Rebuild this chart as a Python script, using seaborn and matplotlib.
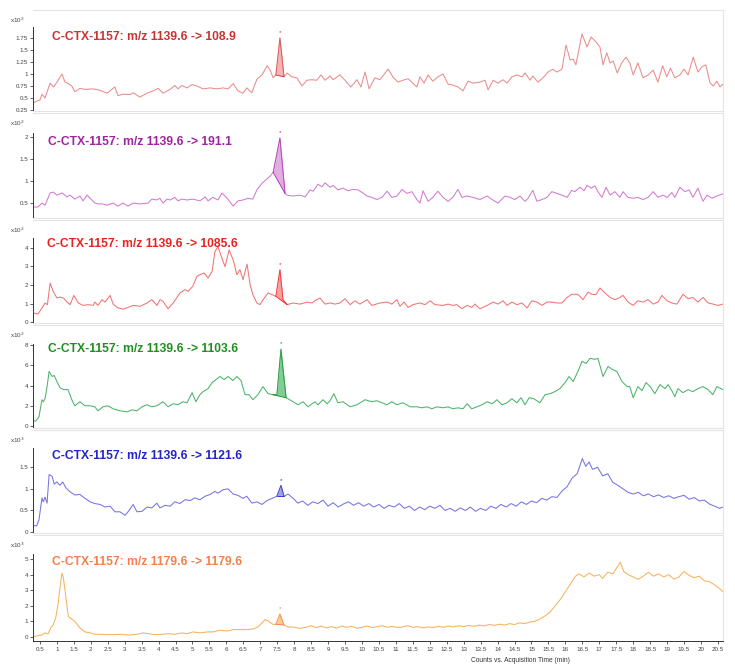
import numpy as np
import matplotlib
matplotlib.use("Agg")
import matplotlib.pyplot as plt
import seaborn as sns

# ---- data (time in min, counts in the panel's x10^n unit) ----
time_108 = [0.29, 0.5, 0.56, 0.65, 0.8, 0.9, 1.0, 1.15, 1.24, 1.33,
            1.44, 1.53, 1.68, 1.83, 2.07, 2.27, 2.48, 2.57, 2.71, 2.8,
            2.95, 3.16, 3.25, 3.45, 3.66, 3.84, 3.99, 4.13, 4.34, 4.48,
            4.57, 4.69, 4.84, 4.98, 5.13, 5.31, 5.52, 5.72, 5.9, 6.05,
            6.2, 6.34, 6.49, 6.6, 6.75, 6.9, 7.05, 7.2, 7.29, 7.38,
            7.46, 7.58, 7.7, 7.79, 7.93, 8.08, 8.23, 8.37, 8.52, 8.67,
            8.79, 8.91, 9.06, 9.15, 9.35, 9.5, 9.67, 9.85, 9.97, 10.09,
            10.21, 10.38, 10.53, 10.77, 10.91, 11.06, 11.21, 11.36, 11.5, 11.62,
            11.71, 11.83, 11.95, 12.09, 12.24, 12.39, 12.54, 12.68, 12.83, 12.98,
            13.13, 13.27, 13.48, 13.63, 13.72, 13.87, 14.01, 14.16, 14.28, 14.42,
            14.57, 14.72, 14.81, 14.96, 15.04, 15.19, 15.34, 15.49, 15.63, 15.75,
            15.9, 16.02, 16.14, 16.23, 16.31, 16.49, 16.64, 16.76, 16.87, 17.02,
            17.11, 17.22, 17.32, 17.41, 17.53, 17.66, 17.79, 17.9, 18.0, 18.14,
            18.29, 18.44, 18.59, 18.73, 18.87, 18.99, 19.1, 19.23, 19.38, 19.5,
            19.62, 19.77, 19.91, 20.03, 20.14, 20.27, 20.36, 20.47, 20.56, 20.65]
counts_108 = [0.40, 0.46, 0.58, 0.50, 0.81, 0.73, 0.83, 1.00, 0.83, 0.80,
              0.75, 0.63, 0.70, 0.68, 0.69, 0.66, 0.60, 0.65, 0.73, 0.55,
              0.58, 0.57, 0.61, 0.52, 0.60, 0.65, 0.70, 0.60, 0.68, 0.76,
              0.69, 0.76, 0.71, 0.78, 0.75, 0.69, 0.71, 0.69, 0.71, 0.69,
              0.80, 0.65, 0.60, 0.71, 0.61, 0.89, 0.98, 1.17, 1.08, 0.92,
              0.98, 1.75, 0.94, 1.02, 0.94, 0.92, 0.75, 0.87, 0.88, 0.87,
              0.98, 0.87, 0.96, 0.88, 0.98, 0.87, 0.73, 0.88, 0.73, 1.04,
              0.69, 0.92, 0.88, 1.10, 0.94, 0.83, 0.87, 0.90, 0.81, 0.73,
              0.94, 0.81, 0.98, 0.85, 0.94, 1.00, 0.79, 0.77, 0.73, 0.65,
              0.85, 0.81, 0.83, 0.87, 0.67, 0.87, 0.81, 0.88, 0.81, 0.94,
              0.98, 0.94, 1.02, 0.87, 0.96, 0.83, 0.92, 1.04, 1.10, 1.04,
              1.10, 1.60, 1.29, 1.31, 1.19, 1.83, 1.56, 1.77, 1.69, 1.56,
              1.19, 1.44, 1.23, 1.27, 1.02, 1.23, 1.35, 1.23, 0.98, 1.23,
              0.92, 0.98, 1.08, 0.83, 1.17, 0.94, 1.12, 0.92, 0.98, 1.10,
              0.98, 1.35, 1.04, 1.15, 1.19, 0.81, 0.75, 0.85, 0.73, 0.79]

time_191 = [0.29, 0.44, 0.56, 0.65, 0.8, 0.89, 1.0, 1.15, 1.3, 1.39,
            1.53, 1.68, 1.77, 1.89, 1.98, 2.12, 2.21, 2.36, 2.47, 2.66,
            2.8, 2.95, 3.1, 3.25, 3.45, 3.69, 3.8, 3.95, 4.04, 4.13,
            4.25, 4.34, 4.48, 4.57, 4.69, 4.84, 5.01, 5.22, 5.37, 5.46,
            5.6, 5.75, 5.87, 6.02, 6.2, 6.34, 6.49, 6.64, 6.78, 6.9,
            7.05, 7.2, 7.3, 7.38, 7.58, 7.73, 7.79, 7.96, 8.17, 8.32,
            8.47, 8.56, 8.7, 8.82, 8.91, 9.06, 9.15, 9.29, 9.44, 9.59,
            9.73, 9.88, 10.03, 10.15, 10.29, 10.44, 10.59, 10.74, 10.88, 11.03,
            11.18, 11.33, 11.47, 11.62, 11.71, 11.8, 11.95, 12.09, 12.24, 12.39,
            12.54, 12.68, 12.83, 12.95, 13.1, 13.27, 13.48, 13.69, 13.84, 14.01,
            14.22, 14.37, 14.51, 14.66, 14.81, 14.9, 15.04, 15.16, 15.31, 15.46,
            15.6, 15.75, 15.9, 16.05, 16.19, 16.28, 16.43, 16.55, 16.64, 16.76,
            16.87, 16.96, 17.08, 17.2, 17.32, 17.46, 17.61, 17.7, 17.85, 18.0,
            18.14, 18.29, 18.44, 18.59, 18.73, 18.88, 19.0, 19.14, 19.23, 19.38,
            19.53, 19.65, 19.76, 19.91, 20.06, 20.18, 20.32, 20.47, 20.65]
counts_191 = [0.41, 0.41, 0.50, 0.45, 0.73, 0.75, 0.68, 0.73, 0.64, 0.68,
              0.59, 0.66, 0.55, 0.68, 0.61, 0.50, 0.48, 0.48, 0.45, 0.50,
              0.43, 0.50, 0.43, 0.50, 0.48, 0.50, 0.59, 0.57, 0.61, 0.50,
              0.59, 0.57, 0.63, 0.55, 0.59, 0.57, 0.59, 0.55, 0.64, 0.55,
              0.63, 0.57, 0.73, 0.61, 0.43, 0.55, 0.57, 0.61, 0.59, 0.80,
              0.95, 1.05, 1.12, 1.20, 1.98, 0.72, 0.68, 0.66, 0.68, 0.64,
              0.80, 0.77, 0.93, 0.87, 0.96, 0.86, 0.90, 0.80, 0.84, 0.78,
              0.81, 0.80, 0.73, 0.66, 0.63, 0.58, 0.63, 0.77, 0.63, 0.66,
              0.81, 0.72, 0.76, 0.58, 0.50, 0.78, 0.54, 0.63, 0.77, 0.63,
              0.54, 0.63, 0.81, 0.63, 0.66, 0.63, 0.58, 0.66, 0.58, 0.50,
              0.66, 0.63, 0.58, 0.66, 0.54, 0.61, 0.79, 0.54, 0.58, 0.63,
              0.76, 0.72, 0.68, 0.63, 0.79, 0.76, 0.86, 0.78, 0.90, 0.84,
              0.89, 0.76, 0.63, 0.86, 0.68, 0.76, 0.63, 0.76, 0.63, 0.61,
              0.63, 0.58, 0.63, 0.76, 0.63, 0.68, 0.63, 0.74, 0.63, 0.86,
              0.76, 0.80, 0.63, 0.84, 0.54, 0.68, 0.61, 0.66, 0.71]

time_1085 = [0.29, 0.44, 0.56, 0.65, 0.72, 0.8, 0.9, 1.0, 1.09, 1.19,
             1.3, 1.39, 1.5, 1.63, 1.77, 1.93, 2.07, 2.12, 2.21, 2.33,
             2.42, 2.57, 2.66, 2.8, 2.95, 3.1, 3.25, 3.45, 3.66, 3.8,
             3.95, 4.04, 4.13, 4.28, 4.43, 4.63, 4.78, 4.87, 5.01, 5.13,
             5.22, 5.34, 5.46, 5.58, 5.66, 5.75, 5.87, 5.96, 6.08, 6.2,
             6.31, 6.4, 6.49, 6.61, 6.7, 6.78, 6.9, 6.99, 7.08, 7.23,
             7.35, 7.46, 7.58, 7.67, 7.79, 7.97, 8.17, 8.38, 8.53, 8.61,
             8.76, 8.91, 9.06, 9.2, 9.35, 9.5, 9.65, 9.79, 9.94, 10.15,
             10.29, 10.53, 10.74, 10.88, 11.03, 11.12, 11.24, 11.36, 11.5, 11.71,
             11.86, 12.01, 12.15, 12.39, 12.54, 12.68, 12.8, 12.95, 13.1, 13.24,
             13.33, 13.48, 13.69, 13.87, 14.01, 14.16, 14.28, 14.42, 14.57, 14.72,
             14.87, 15.01, 15.16, 15.31, 15.46, 15.6, 15.75, 15.9, 16.05, 16.19,
             16.37, 16.52, 16.67, 16.78, 16.9, 17.02, 17.17, 17.32, 17.46, 17.58,
             17.7, 17.85, 18.0, 18.14, 18.29, 18.44, 18.59, 18.73, 18.85, 19.0,
             19.14, 19.29, 19.47, 19.62, 19.76, 19.91, 20.06, 20.21, 20.36, 20.5,
             20.65]
counts_1085 = [0.49, 0.43, 0.76, 1.03, 0.94, 2.10, 1.62, 1.30, 1.35, 1.30,
               1.08, 0.94, 1.44, 1.03, 0.90, 0.94, 0.90, 1.08, 0.90, 1.21,
               1.08, 1.44, 0.97, 0.76, 0.70, 0.79, 0.90, 0.85, 1.03, 1.21,
               0.90, 1.21, 1.12, 0.72, 1.03, 1.57, 1.75, 1.66, 1.93, 2.47,
               2.56, 2.65, 2.38, 2.74, 3.80, 4.07, 3.44, 2.99, 3.89, 3.35,
               2.56, 2.83, 2.29, 3.13, 2.02, 1.48, 1.03, 0.94, 1.21, 1.57,
               1.48, 1.39, 2.83, 1.21, 0.94, 1.03, 0.97, 1.08, 1.03, 1.15,
               1.30, 0.97, 1.03, 0.97, 1.03, 1.26, 0.94, 1.15, 0.97, 1.21,
               0.90, 1.03, 1.08, 0.97, 1.21, 0.85, 1.08, 0.79, 0.94, 1.03,
               0.94, 1.15, 0.94, 0.90, 0.97, 0.90, 0.94, 0.72, 0.90, 0.79,
               0.97, 0.72, 0.90, 1.08, 0.97, 1.15, 0.90, 1.08, 0.94, 1.03,
               0.76, 1.15, 1.08, 0.90, 1.08, 1.08, 1.03, 1.03, 1.33, 1.50,
               1.50, 1.21, 1.62, 1.50, 1.48, 1.84, 1.57, 1.33, 1.21, 1.30,
               1.44, 1.08, 0.90, 1.15, 1.08, 1.21, 0.97, 1.08, 1.44, 1.15,
               1.03, 0.97, 1.50, 1.26, 1.33, 1.08, 1.33, 1.03, 0.97, 0.90,
               0.97]

time_1103 = [0.29, 0.38, 0.47, 0.56, 0.6, 0.65, 0.71, 0.77, 0.86, 0.92,
             1.0, 1.09, 1.19, 1.33, 1.44, 1.53, 1.68, 1.83, 1.98, 2.12,
             2.21, 2.36, 2.51, 2.66, 2.86, 3.07, 3.22, 3.36, 3.51, 3.66,
             3.8, 3.95, 4.04, 4.13, 4.28, 4.43, 4.57, 4.72, 4.84, 4.99,
             5.1, 5.22, 5.31, 5.46, 5.58, 5.66, 5.81, 5.93, 6.05, 6.19,
             6.31, 6.43, 6.55, 6.67, 6.78, 6.93, 7.08, 7.23, 7.37, 7.49,
             7.61, 7.76, 7.97, 8.11, 8.26, 8.41, 8.61, 8.7, 8.85, 8.97,
             9.06, 9.17, 9.29, 9.44, 9.65, 9.85, 10.09, 10.29, 10.44, 10.59,
             10.74, 10.88, 11.03, 11.21, 11.42, 11.62, 11.77, 11.92, 12.06, 12.21,
             12.39, 12.54, 12.68, 12.83, 12.98, 13.1, 13.24, 13.39, 13.54, 13.69,
             13.84, 13.98, 14.13, 14.28, 14.42, 14.57, 14.69, 14.81, 14.93, 15.07,
             15.25, 15.4, 15.55, 15.69, 15.84, 15.99, 16.11, 16.23, 16.37, 16.49,
             16.61, 16.73, 16.87, 16.96, 17.11, 17.26, 17.38, 17.52, 17.67, 17.82,
             17.9, 18.0, 18.14, 18.26, 18.38, 18.5, 18.64, 18.79, 18.94, 19.03,
             19.14, 19.23, 19.32, 19.47, 19.62, 19.76, 19.91, 20.06, 20.21, 20.35,
             20.47, 20.65]
counts_1103 = [0.5, 0.5, 0.9, 2.6, 2.4, 2.7, 3.9, 5.4, 4.9, 5.0,
               4.4, 3.8, 3.6, 3.6, 2.6, 2.0, 2.4, 2.0, 2.0, 1.9,
               1.5, 1.9, 2.0, 1.7, 1.5, 1.4, 1.6, 1.5, 1.9, 2.1,
               1.9, 2.0, 2.2, 2.4, 1.9, 2.2, 2.1, 2.4, 2.3, 3.3,
               2.4, 3.1, 3.4, 3.7, 4.3, 4.5, 4.9, 4.6, 4.9, 4.5,
               4.9, 4.5, 3.1, 3.1, 2.6, 3.1, 3.9, 3.2, 3.1, 3.1,
               7.6, 2.8, 2.4, 2.1, 2.4, 1.9, 2.4, 2.1, 2.6, 2.2,
               2.5, 3.2, 2.3, 2.4, 1.9, 2.1, 2.6, 2.4, 2.5, 2.3,
               2.1, 2.4, 2.1, 2.3, 1.9, 1.9, 1.8, 1.9, 1.7, 1.9,
               1.8, 1.9, 1.7, 1.8, 1.7, 2.2, 1.7, 1.9, 2.1, 2.4,
               2.2, 2.6, 2.1, 2.3, 2.7, 2.3, 2.8, 2.1, 2.8, 2.7,
               2.3, 3.1, 3.2, 3.4, 3.7, 4.3, 4.9, 4.4, 5.4, 6.4,
               6.2, 6.7, 6.6, 6.7, 4.9, 5.9, 5.6, 5.4, 4.4, 3.9,
               3.9, 2.8, 3.9, 3.5, 4.3, 3.9, 3.2, 4.1, 3.7, 4.1,
               3.5, 2.9, 3.7, 3.3, 3.6, 3.4, 3.7, 3.9, 3.6, 3.1,
               3.9, 3.6]

time_1121 = [0.29, 0.4, 0.47, 0.56, 0.6, 0.65, 0.71, 0.77, 0.86, 0.92,
             1.0, 1.09, 1.17, 1.27, 1.39, 1.53, 1.68, 1.83, 1.98, 2.12,
             2.27, 2.42, 2.57, 2.71, 2.86, 3.01, 3.1, 3.25, 3.36, 3.51,
             3.66, 3.8, 3.95, 4.04, 4.19, 4.34, 4.48, 4.63, 4.78, 4.93,
             5.07, 5.22, 5.37, 5.52, 5.66, 5.75, 5.9, 6.05, 6.2, 6.34,
             6.49, 6.6, 6.75, 6.9, 7.05, 7.2, 7.35, 7.49, 7.61, 7.7,
             7.82, 7.97, 8.11, 8.25, 8.4, 8.55, 8.7, 8.85, 9.0, 9.15,
             9.3, 9.45, 9.6, 9.75, 9.9, 10.05, 10.2, 10.35, 10.5, 10.65,
             10.8, 10.95, 11.1, 11.25, 11.4, 11.55, 11.7, 11.85, 12.0, 12.15,
             12.3, 12.45, 12.6, 12.75, 12.9, 13.05, 13.2, 13.35, 13.5, 13.65,
             13.8, 13.95, 14.1, 14.25, 14.4, 14.55, 14.7, 14.85, 15.0, 15.15,
             15.3, 15.45, 15.6, 15.75, 15.9, 16.05, 16.2, 16.35, 16.5, 16.6,
             16.7, 16.8, 16.95, 17.1, 17.25, 17.4, 17.55, 17.7, 17.85, 18.0,
             18.15, 18.3, 18.45, 18.6, 18.75, 18.9, 19.05, 19.2, 19.35, 19.5,
             19.65, 19.8, 19.95, 20.1, 20.25, 20.4, 20.55, 20.65]
counts_1121 = [0.16, 0.14, 0.28, 0.79, 0.70, 0.81, 0.67, 1.33, 1.29, 1.11,
               1.16, 1.08, 1.16, 1.02, 0.93, 0.86, 0.87, 0.78, 0.70, 0.66,
               0.64, 0.58, 0.60, 0.47, 0.47, 0.39, 0.47, 0.64, 0.47, 0.48,
               0.58, 0.56, 0.67, 0.56, 0.62, 0.60, 0.70, 0.66, 0.75, 0.73,
               0.79, 0.75, 0.83, 0.87, 0.94, 0.90, 0.98, 1.00, 0.88, 0.85,
               0.78, 0.83, 0.67, 0.70, 0.64, 0.73, 0.78, 0.83, 1.08, 0.83,
               0.88, 0.78, 0.67, 0.72, 0.62, 0.70, 0.66, 0.74, 0.60, 0.68,
               0.58, 0.65, 0.70, 0.62, 0.68, 0.60, 0.66, 0.58, 0.64, 0.55,
               0.62, 0.58, 0.66, 0.55, 0.60, 0.50, 0.58, 0.52, 0.60, 0.55,
               0.62, 0.50, 0.55, 0.48, 0.56, 0.50, 0.58, 0.48, 0.55, 0.50,
               0.60, 0.55, 0.64, 0.58, 0.66, 0.60, 0.70, 0.64, 0.72, 0.68,
               0.78, 0.74, 0.82, 0.80, 0.95, 1.05, 1.25, 1.35, 1.70, 1.52,
               1.62, 1.45, 1.50, 1.30, 1.35, 1.15, 1.08, 1.00, 0.92, 0.88,
               0.92, 0.84, 0.88, 0.82, 0.86, 0.80, 0.84, 0.78, 0.82, 0.85,
               0.76, 0.80, 0.72, 0.74, 0.65, 0.60, 0.55, 0.58]

time_1179 = [0.29, 0.38, 0.56, 0.65, 0.74, 0.83, 0.89, 0.97, 1.04, 1.09,
             1.15, 1.19, 1.24, 1.3, 1.34, 1.44, 1.53, 1.68, 1.83, 1.98,
             2.12, 2.27, 2.48, 2.71, 2.92, 3.1, 3.36, 3.54, 3.69, 3.9,
             4.1, 4.28, 4.48, 4.69, 4.84, 5.01, 5.22, 5.43, 5.6, 5.81,
             6.02, 6.2, 6.4, 6.6, 6.78, 6.93, 7.05, 7.14, 7.23, 7.37,
             7.46, 7.58, 7.7, 7.82, 7.97, 8.17, 8.35, 8.5, 8.65, 8.8,
             8.95, 9.1, 9.25, 9.4, 9.55, 9.7, 9.85, 10.0, 10.15, 10.3,
             10.45, 10.6, 10.75, 10.9, 11.05, 11.2, 11.35, 11.5, 11.65, 11.8,
             11.95, 12.1, 12.25, 12.4, 12.55, 12.7, 12.85, 13.0, 13.15, 13.3,
             13.45, 13.6, 13.75, 13.9, 14.05, 14.2, 14.35, 14.5, 14.65, 14.8,
             14.95, 15.1, 15.25, 15.4, 15.55, 15.7, 15.85, 16.0, 16.15, 16.3,
             16.4, 16.55, 16.7, 16.85, 17.0, 17.1, 17.25, 17.4, 17.55, 17.62,
             17.72, 17.85, 18.0, 18.15, 18.3, 18.45, 18.6, 18.75, 18.9, 19.05,
             19.2, 19.35, 19.5, 19.65, 19.8, 19.95, 20.1, 20.25, 20.4, 20.55,
             20.65]
counts_1179 = [0.02, 0.05, 0.13, 0.26, 0.20, 0.64, 0.77, 1.28, 2.18, 3.14,
               4.10, 3.80, 3.00, 1.92, 1.30, 1.15, 1.00, 0.58, 0.32, 0.26,
               0.17, 0.17, 0.15, 0.15, 0.17, 0.12, 0.17, 0.26, 0.21, 0.15,
               0.17, 0.21, 0.17, 0.26, 0.21, 0.32, 0.26, 0.32, 0.32, 0.43,
               0.38, 0.47, 0.47, 0.47, 0.51, 0.64, 0.90, 1.11, 1.03, 0.81,
               0.81, 1.47, 0.77, 0.64, 0.64, 0.55, 0.62, 0.72, 0.60, 0.70,
               0.58, 0.66, 0.56, 0.70, 0.62, 0.68, 0.56, 0.62, 0.70, 0.60,
               0.66, 0.72, 0.62, 0.68, 0.60, 0.64, 0.72, 0.62, 0.66, 0.58,
               0.64, 0.60, 0.68, 0.62, 0.70, 0.64, 0.72, 0.66, 0.74, 0.68,
               0.76, 0.70, 0.80, 0.74, 0.82, 0.76, 0.85, 0.80, 0.90, 0.86,
               0.95, 1.00, 1.15, 1.35, 1.60, 2.00, 2.40, 2.90, 3.40, 3.90,
               4.05, 3.85, 4.10, 3.90, 4.00, 3.75, 4.15, 4.05, 4.55, 4.80,
               4.20, 4.00, 3.85, 3.70, 3.90, 4.15, 3.90, 4.05, 3.85, 4.00,
               3.70, 3.85, 4.20, 3.95, 3.80, 3.90, 3.60, 3.55, 3.35, 3.10,
               2.90]

titles = ["C-CTX-1157: m/z 1139.6 -> 108.9",
          "C-CTX-1157: m/z 1139.6 -> 191.1",
          "C-CTX-1157: m/z 1139.6 -> 1085.6",
          "C-CTX-1157: m/z 1139.6 -> 1103.6",
          "C-CTX-1157: m/z 1139.6 -> 1121.6",
          "C-CTX-1157: m/z 1179.6 -> 1179.6"]
exponents = [2, 2, 2, 2, 3, 3]
# integrated peak window (start, end) in min
peak_windows = [(7.46, 7.70), (7.38, 7.73), (7.46, 7.79),
                (7.37, 7.76), (7.49, 7.70), (7.46, 7.70)]
ytick_sets = [[0.25, 0.5, 0.75, 1, 1.25, 1.5, 1.75],
              [0.5, 1, 1.5, 2],
              [0, 1, 2, 3, 4],
              [0, 2, 4, 6, 8],
              [0, 0.5, 1, 1.5],
              [0, 1, 2, 3, 4, 5]]
xticks = np.arange(0.5, 20.51, 0.5)

traces = [(time_108, counts_108), (time_191, counts_191), (time_1085, counts_1085),
          (time_1103, counts_1103), (time_1121, counts_1121), (time_1179, counts_1179)]

# ---- styling ----
line_colors = ["#eb8c8c", "#d27ad2", "#f27373", "#4cb36a", "#7474e2", "#f6b25e"]
title_colors = ["#c83434", "#a024a0", "#ee2020", "#1f8f1f", "#2424c8", "#f28050"]
fill_colors = ["#f4a6a6", "#dca0dc", "#f59090", "#6cc486", "#9090e8", "#f8c27a"]
ylims = [(0.23, 2.33), (0.16, 2.55), (-0.05, 5.51), (-0.2, 10.0), (-0.02, 2.36), (-0.26, 6.54)]
spine_tops = [1.98, 2.09, 4.54, 8.1, 1.94, 5.3]
# panel boxes in pixels (top, bottom) and title anchor (x, y)
boxes = [(10, 111), (113, 218), (220, 323), (325, 428), (430, 533), (535, 641)]
title_pos = [(52, 37), (48, 142), (47, 244), (48, 349), (52, 456), (52, 562)]

sns.set_style("white")
plt.rcParams["font.family"] = ["Liberation Sans", "DejaVu Sans"]

W, H = 735, 668
fig = plt.figure(figsize=(W / 100, H / 100), dpi=100)

for i, ((t, c), (top, bot)) in enumerate(zip(traces, boxes)):
    ax = fig.add_axes([33 / W, 1 - bot / H, 690 / W, (bot - top) / H])
    t = np.array(t)
    c = np.array(c)
    sns.lineplot(x=t, y=c, ax=ax, color=line_colors[i], lw=0.75,
                 estimator=None, sort=False)

    # shaded integrated peak with straight baseline
    s, e = peak_windows[i]
    m = (t >= s - 1e-9) & (t <= e + 1e-9)
    tp, cp = t[m], c[m]
    base = np.interp(tp, [tp[0], tp[-1]], [cp[0], cp[-1]])
    ax.fill_between(tp, base, cp, color=fill_colors[i], alpha=0.85, lw=0)
    ax.plot([tp[0], tp[-1]], [cp[0], cp[-1]], color=title_colors[i], lw=0.6)
    ax.plot(tp, cp, color=title_colors[i], lw=0.6, alpha=0.6)
    k = np.argmax(cp)
    ax.annotate("*", (tp[k], cp[k]), xytext=(0, 2), textcoords="offset points",
                ha="center", va="bottom", fontsize=4.5, color=title_colors[i])

    ax.set_xlim(0.295, 20.65)
    ax.set_ylim(*ylims[i])
    ax.set_yticks(ytick_sets[i])
    ax.set_yticklabels([f"{v:g}" for v in ytick_sets[i]])
    ax.tick_params(axis="y", left=True, length=2.5, width=0.6, color="#444444",
                   labelsize=4.5, labelcolor="#444444", pad=1)
    for side in ["top", "right", "bottom"]:
        ax.spines[side].set_color("#e4e4e4")
        ax.spines[side].set_linewidth(0.8)
    ax.spines["left"].set_color("#333333")
    ax.spines["left"].set_linewidth(0.7)
    ax.spines["left"].set_bounds(ylims[i][0], spine_tops[i])
    ax.set_xlabel("")
    ax.set_ylabel("")

    if i == len(traces) - 1:
        ax.set_xticks(xticks)
        ax.set_xticklabels([f"{v:g}" for v in xticks])
        ax.tick_params(axis="x", bottom=True, length=2.5, width=0.6, color="#444444",
                       labelsize=4.5, labelcolor="#444444", pad=1.5)
        ax.spines["bottom"].set_color("#333333")
        ax.spines["bottom"].set_linewidth(0.7)
    else:
        ax.set_xticks([])

    fig.text(10 / W, 1 - (top + 10) / H, f"x10$^{{{exponents[i]}}}$", fontsize=4.5,
             color="#444444", va="center", ha="left")
    tx, ty = title_pos[i]
    fig.text(tx / W, 1 - ty / H, titles[i], fontsize=8.7, fontweight="bold",
             color=title_colors[i], va="center", ha="left")

fig.text(520 / W, 1 - 660 / H, "Counts vs. Acquisition Time (min)", fontsize=4.8,
         color="#333333", ha="center", va="center")

fig.savefig("out.png", dpi=100, facecolor="white")
